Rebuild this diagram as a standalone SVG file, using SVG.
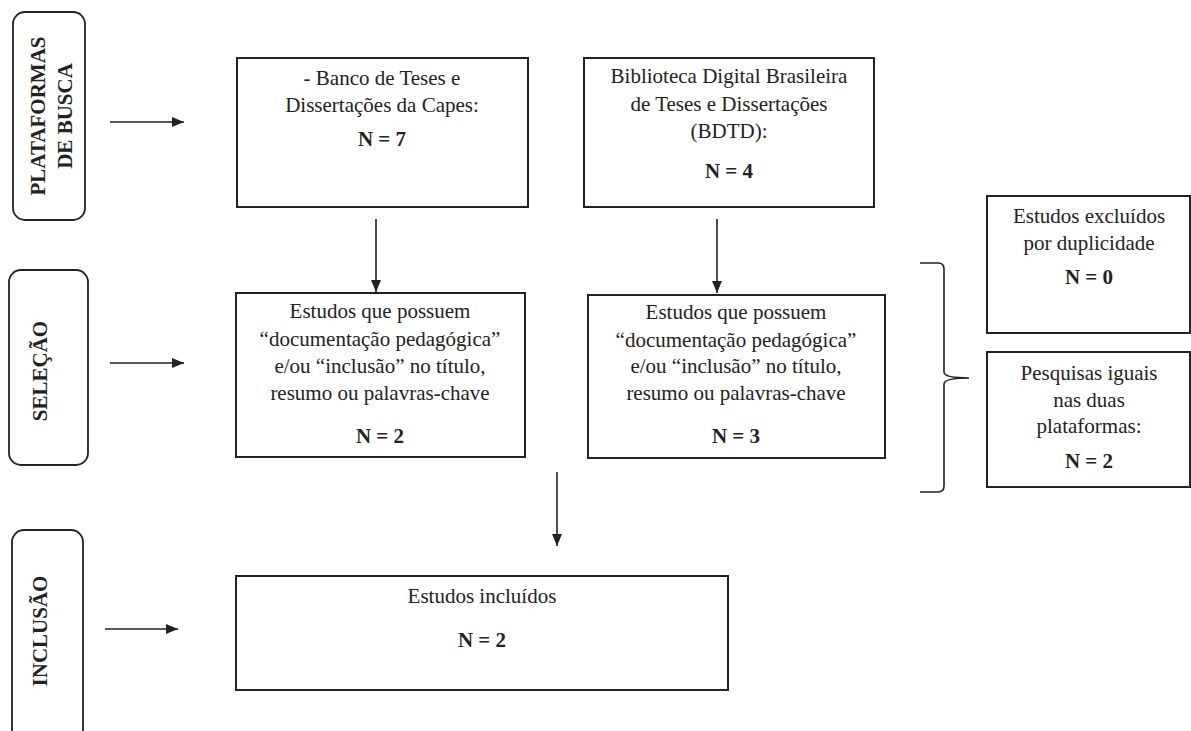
<svg xmlns="http://www.w3.org/2000/svg" width="1191" height="731" viewBox="0 0 1191 731">
<style>
.box{fill:#fff;stroke:#222;stroke-width:2}
.side{fill:#fff;stroke:#222;stroke-width:1.8}
.t{font-family:'Liberation Serif','Tinos','Times New Roman','Nimbus Roman','DejaVu Serif',serif;font-size:21px;fill:#222;text-anchor:middle}
.b{font-weight:bold}
.c{stroke:#222;stroke-width:1.6;fill:none}
</style>
<defs>
<marker id="ah" viewBox="0 0 12 10" refX="12" refY="5" markerWidth="12" markerHeight="10" markerUnits="userSpaceOnUse" orient="auto">
<path d="M0,0 L12,5 L0,10 Z" fill="#222"/>
</marker>
</defs>
<rect width="1191" height="731" fill="#fff"/>
<g id="lbl-plataformas">
<rect class="side" x="13" y="12" width="72" height="208" rx="12"/>
<text class="t b" transform="translate(45,116) rotate(-90)">PLATAFORMAS</text>
<text class="t b" transform="translate(72,116) rotate(-90)">DE BUSCA</text>
</g>
<g id="lbl-selecao">
<rect class="side" x="9" y="270" width="79" height="195" rx="12"/>
<text class="t b" transform="translate(47,371) rotate(-90)">SELEÇÃO</text>
</g>
<g id="lbl-inclusao">
<rect class="side" x="12" y="530" width="71" height="220" rx="12"/>
<text class="t b" transform="translate(47,631) rotate(-90)">INCLUSÃO</text>
</g>
<g id="capes">
<rect class="box" x="237" y="58" width="291" height="149"/>
<text class="t" x="382" y="85">- Banco de Teses e</text>
<text class="t" x="382" y="112">Dissertações da Capes:</text>
<text class="t b" x="382" y="146">N = 7</text>
</g>
<g id="bdtd">
<rect class="box" x="584" y="58" width="290" height="149"/>
<text class="t" x="729" y="83">Biblioteca Digital Brasileira</text>
<text class="t" x="729" y="111">de Teses e Dissertações</text>
<text class="t" x="729" y="138">(BDTD):</text>
<text class="t b" x="729" y="178">N = 4</text>
</g>
<g id="sel-capes">
<rect class="box" x="236" y="293" width="289" height="164"/>
<text class="t" x="380" y="318">Estudos que possuem</text>
<text class="t" x="380" y="346">“documentação pedagógica”</text>
<text class="t" x="380" y="373">e/ou “inclusão” no título,</text>
<text class="t" x="380" y="400">resumo ou palavras-chave</text>
<text class="t b" x="380" y="443">N = 2</text>
</g>
<g id="sel-bdtd">
<rect class="box" x="588" y="295" width="297" height="163"/>
<text class="t" x="736" y="319">Estudos que possuem</text>
<text class="t" x="736" y="347">“documentação pedagógica”</text>
<text class="t" x="736" y="373">e/ou “inclusão” no título,</text>
<text class="t" x="736" y="400">resumo ou palavras-chave</text>
<text class="t b" x="736" y="443">N = 3</text>
</g>
<g id="excluidos">
<rect class="box" x="987" y="196" width="203" height="137"/>
<text class="t" x="1089" y="223">Estudos excluídos</text>
<text class="t" x="1089" y="250">por duplicidade</text>
<text class="t b" x="1089" y="284">N = 0</text>
</g>
<g id="iguais">
<rect class="box" x="987" y="352" width="203" height="135"/>
<text class="t" x="1089" y="380">Pesquisas iguais</text>
<text class="t" x="1089" y="407">nas duas</text>
<text class="t" x="1089" y="433">plataformas:</text>
<text class="t b" x="1089" y="468">N = 2</text>
</g>
<g id="incluidos">
<rect class="box" x="236" y="576" width="492" height="114"/>
<text class="t" x="482" y="603">Estudos incluídos</text>
<text class="t b" x="482" y="647">N = 2</text>
</g>
<g id="connectors">
<line class="c" x1="110" y1="122" x2="184" y2="122" marker-end="url(#ah)"/>
<line class="c" x1="110" y1="363" x2="184" y2="363" marker-end="url(#ah)"/>
<line class="c" x1="105" y1="629" x2="178" y2="629" marker-end="url(#ah)"/>
<line class="c" x1="376" y1="219" x2="376" y2="292" marker-end="url(#ah)"/>
<line class="c" x1="717" y1="219" x2="717" y2="293" marker-end="url(#ah)"/>
<line class="c" x1="557" y1="472" x2="557" y2="546" marker-end="url(#ah)"/>
<path class="c" d="M920,263 L938,263 Q944,263 944,269 L944,372 Q944,378 969,378 Q944,378 944,384 L944,486 Q944,492 938,492 L920,492"/>
</g>
</svg>
